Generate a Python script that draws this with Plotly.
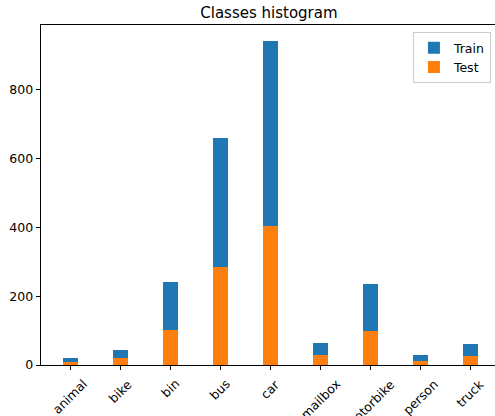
import plotly.graph_objects as go

# Class counts per split
classes = ["animal", "bike", "bin", "bus", "car", "mailbox", "motorbike", "person", "truck"]
train_counts = [19, 45, 240, 659, 941, 65, 234, 28, 60]
test_counts = [8, 19, 103, 284, 403, 28, 100, 13, 25]

BLUE = "#1f77b4"
ORANGE = "#ff7f0e"
FONT = "DejaVu Sans"

x_pos = list(range(len(classes)))

fig = go.Figure()
fig.add_trace(go.Bar(x=x_pos, y=train_counts, name="Train", marker=dict(color=BLUE, line=dict(width=0)), width=0.3))
fig.add_trace(go.Bar(x=x_pos, y=test_counts, name="Test", marker=dict(color=ORANGE, line=dict(width=0)), width=0.3))

# Rotated category labels centred under each tick
for xi, name in zip(x_pos, classes):
    fig.add_annotation(
        x=xi, y=0, xref="x", yref="paper",
        text=name, showarrow=False, textangle=-45,
        xanchor="center", yanchor="top", yshift=-9,
        font=dict(family=FONT, size=12.5, color="#000000"),
    )

fig.update_layout(
    width=495, height=416,
    margin=dict(l=41, r=0, t=25, b=51),
    plot_bgcolor="white", paper_bgcolor="white",
    barmode="overlay",
    bargap=0,
    font=dict(family=FONT, size=12.5, color="#000000"),
    title=dict(
        text="Classes histogram", x=0.502, xref="paper", xanchor="center",
        y=1 - 13 / 416, yref="container", yanchor="middle",
        font=dict(family=FONT, size=15, color="#000000"),
    ),
    legend=dict(
        x=0.991, y=0.979, xanchor="right", yanchor="top",
        bordercolor="#cccccc", borderwidth=1, bgcolor="rgba(255,255,255,0.8)",
        font=dict(family=FONT, size=12.5),
        itemsizing="constant",
    ),
    showlegend=True,
)

fig.update_xaxes(
    range=[-0.58, 8.5], tickmode="array", tickvals=x_pos, showticklabels=False,
    ticks="outside", ticklen=4.4, tickwidth=1, tickcolor="#000000",
    showline=True, linecolor="#000000", linewidth=1, mirror=True,
    showgrid=False, zeroline=False,
)
fig.update_yaxes(
    range=[0, 988], tickmode="array", tickvals=[0, 200, 400, 600, 800],
    ticks="outside", ticklen=4.4, tickwidth=1, tickcolor="#000000",
    showline=True, linecolor="#000000", linewidth=1,
    showgrid=False, zeroline=False,
    tickfont=dict(family=FONT, size=12.5, color="#000000"),
)

fig.write_html("out.html")
